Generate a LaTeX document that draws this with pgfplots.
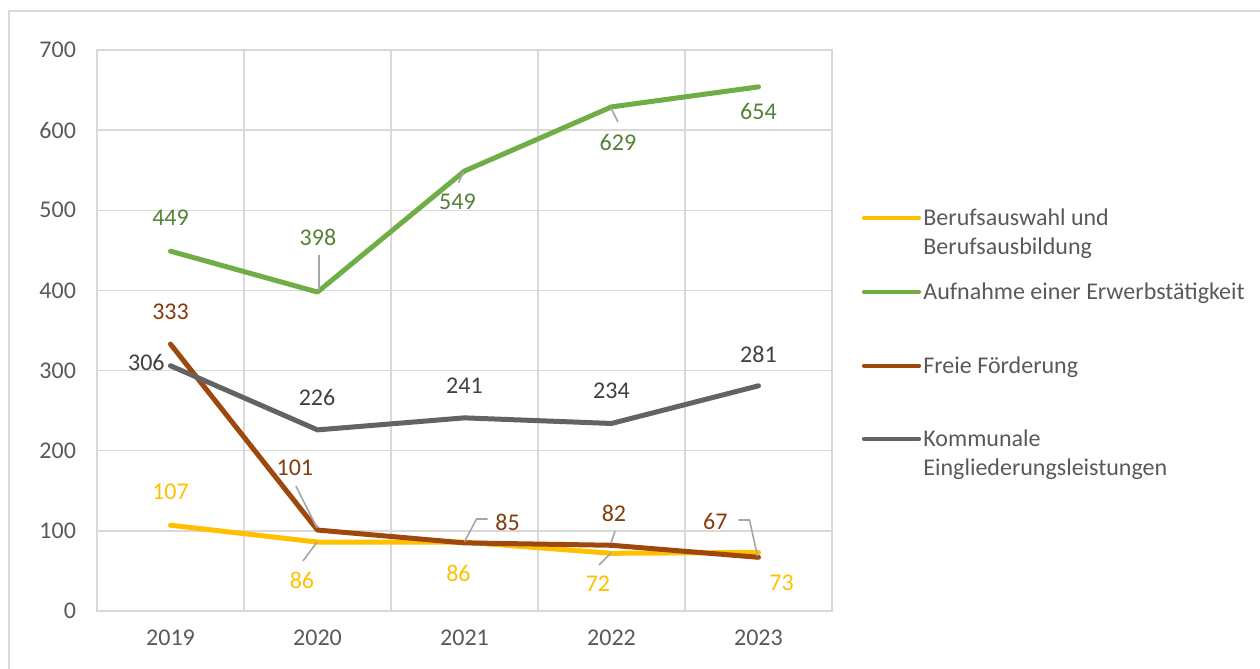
\documentclass[border=0pt]{standalone}
\usepackage{fontspec}
\setmainfont{Carlito}
\usepackage{pgfplots}
\pgfplotsset{compat=1.18}
\definecolor{cYellow}{HTML}{FFC000}
\definecolor{cGreen}{HTML}{70AD47}
\definecolor{cBrown}{HTML}{9E480E}
\definecolor{cGray}{HTML}{636363}
\definecolor{lGreen}{HTML}{548235}
\definecolor{lBrown}{HTML}{843C0C}
\definecolor{lGray}{HTML}{404040}
\definecolor{gridc}{HTML}{D9D9D9}
\definecolor{txt}{HTML}{595959}
\definecolor{leader}{HTML}{A6A6A6}
\tikzset{label node/.style={font=\fontsize{12}{14.4}\selectfont, inner sep=0pt}}

\begin{document}
\begin{tikzpicture}
\clip (0,0) rectangle (630pt,-334.5pt);
\draw[gridc, line width=0.6pt] (4.5pt,-5.5pt) rectangle (700pt,-400pt);

\begin{axis}[
    at={(48.5pt,-305.5pt)}, anchor=south west,
    scale only axis, width=367.5pt, height=280.5pt,
    xmin=-0.5, xmax=4.5, ymin=0, ymax=700,
    xtick={0,1,2,3,4},
    xticklabels={2019,2020,2021,2022,2023},
    minor xtick={-0.5,0.5,1.5,2.5,3.5,4.5},
    ytick={0,100,...,700},
    major tick length=0pt, minor tick length=0pt,
    ymajorgrids=true, xminorgrids=true,
    grid style={gridc, line width=0.7pt},
    axis line style={gridc, line width=0.7pt},
    /pgf/number format/assume math mode=true,
    tick label style={text=txt, font=\fontsize{12}{14.4}\selectfont},
    xticklabel style={yshift=-6pt},
    yticklabel style={xshift=-7pt},
    every axis plot/.append style={line width=2.5pt, line cap=round, line join=round},
  ]
  \addplot[cYellow] coordinates {(0,107) (1,86) (2,86) (3,72) (4,73)};
  \addplot[cGreen]  coordinates {(0,449) (1,398) (2,549) (3,629) (4,654)};
  \addplot[cBrown]  coordinates {(0,333) (1,101) (2,85) (3,82) (4,67)};
  \addplot[cGray]   coordinates {(0,306) (1,226) (2,241) (3,234) (4,281)};

  % leader lines
  \begin{scope}[leader, line width=0.8pt]
    \draw (axis cs:1.010,444.2) -- (axis cs:1.010,400.5);
    \draw (axis cs:0.853,156.0) -- (axis cs:0.997,103.6);
    \draw (axis cs:0.997,86.1) -- (axis cs:0.901,62.4);
    \draw (axis cs:1.993,547.8) -- (axis cs:1.959,534.1);
    \draw (axis cs:2.997,627.6) -- (axis cs:3.044,610.2);
    \draw (axis cs:2.000,86.5) -- (axis cs:2.082,114.8) -- (axis cs:2.157,114.8);
    \draw (axis cs:2.997,84.9) -- (axis cs:3.024,99.8);
    \draw (axis cs:2.997,72.4) -- (axis cs:2.915,57.4);
    \draw (axis cs:3.863,113.6) -- (axis cs:3.939,113.6) -- (axis cs:3.993,68.6);
  \end{scope}

  % data labels
  \node[label node, text=cYellow] at (axis cs:0,148.5) {107};
  \node[label node, text=cYellow] at (axis cs:0.894,38.7) {86};
  \node[label node, text=cYellow] at (axis cs:1.959,47.4) {86};
  \node[label node, text=cYellow] at (axis cs:2.908,33.7) {72};
  \node[label node, text=cYellow] at (axis cs:4.157,34.9) {73};

  \node[label node, text=lGreen] at (axis cs:0,490.4) {449};
  \node[label node, text=lGreen] at (axis cs:1.003,466.7) {398};
  \node[label node, text=lGreen] at (axis cs:1.952,510.4) {549};
  \node[label node, text=lGreen] at (axis cs:3.044,585.2) {629};
  \node[label node, text=lGreen] at (axis cs:4,622.7) {654};

  \node[label node, text=lBrown] at (axis cs:0,373.1) {333};
  \node[label node, text=lBrown] at (axis cs:0.846,178.4) {101};
  \node[label node, text=lBrown] at (axis cs:2.293,111.1) {85};
  \node[label node, text=lBrown] at (axis cs:3.017,122.3) {82};
  \node[label node, text=lBrown] at (axis cs:3.706,112.3) {67};

  \node[label node, text=lGray] at (axis cs:-0.164,310.7) {306};
  \node[label node, text=lGray] at (axis cs:0.997,265.8) {226};
  \node[label node, text=lGray] at (axis cs:2,280.8) {241};
  \node[label node, text=lGray] at (axis cs:3,274.5) {234};
  \node[label node, text=lGray] at (axis cs:4,320.7) {281};
\end{axis}

% legend
\begin{scope}[x=0.5pt, y=-0.5pt, every node/.style={anchor=base west, inner sep=0pt, text=txt, font=\fontsize{12}{14.4}\selectfont}]
  \draw[cYellow, line width=2.1pt, line cap=round] (864,217.7) -- (919,217.7);
  \node at (923,225.5) {Berufsauswahl und};
  \node at (923,254.5) {Berufsausbildung};
  \draw[cGreen, line width=2.1pt, line cap=round] (864,291.7) -- (919,291.7);
  \node at (923,299.2) {Aufnahme einer Erwerbstätigkeit};
  \draw[cBrown, line width=2.1pt, line cap=round] (864,365.7) -- (919,365.7);
  \node at (923,373.2) {Freie Förderung};
  \draw[cGray, line width=2.1pt, line cap=round] (864,439) -- (919,439);
  \node at (923,446.5) {Kommunale};
  \node at (923,475.5) {Eingliederungsleistungen};
\end{scope}
\end{tikzpicture}
\end{document}
